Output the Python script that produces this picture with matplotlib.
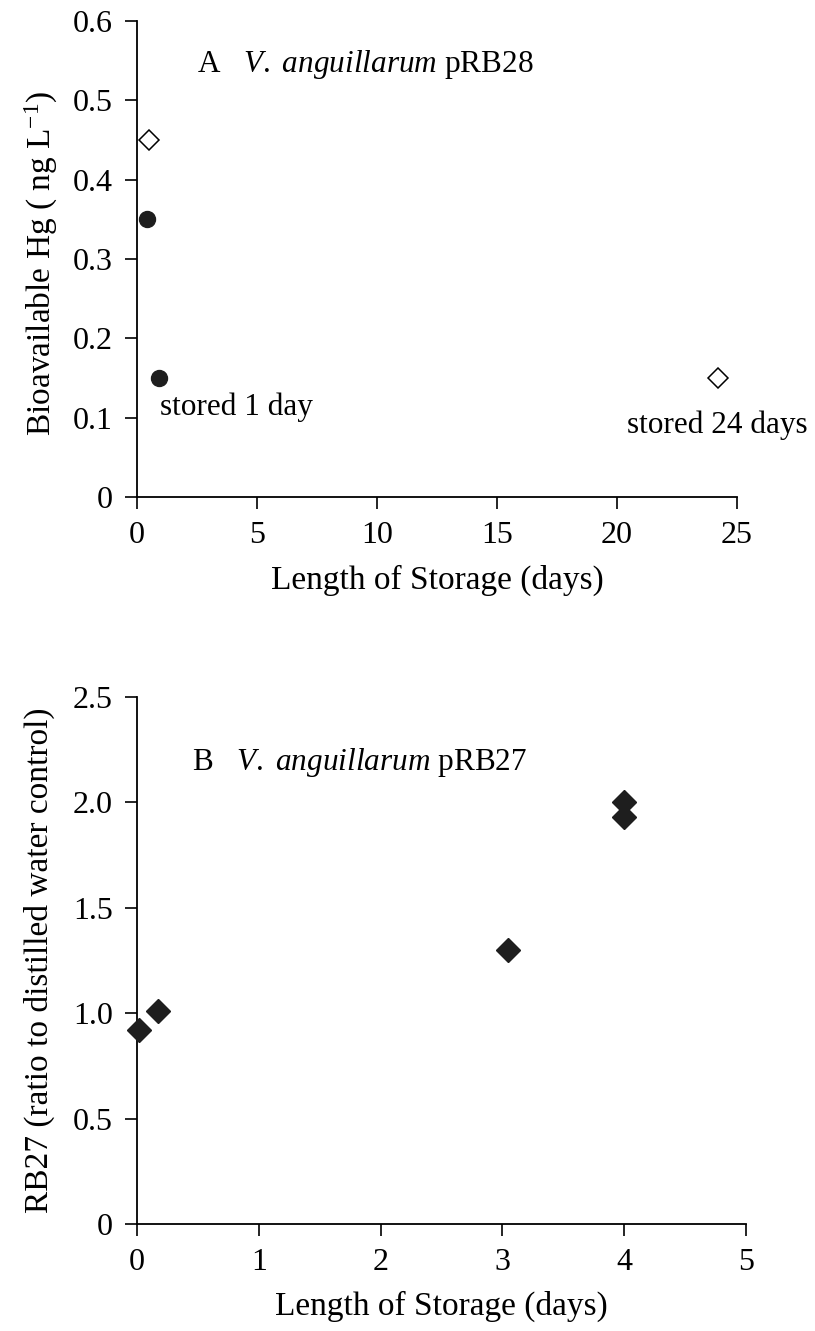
import matplotlib
matplotlib.use("Agg")
import matplotlib.pyplot as plt

plt.rcParams['font.family'] = ['Liberation Serif', 'DejaVu Serif']
plt.rcParams['mathtext.fontset'] = 'custom'
plt.rcParams['mathtext.rm'] = 'Liberation Serif'
plt.rcParams['mathtext.it'] = 'Liberation Serif:italic'

# Panel A data
a_closed_x = [0.4, 0.9]
a_closed_y = [0.35, 0.15]
a_open_x = [0.5, 24.2]
a_open_y = [0.45, 0.15]
a_xticks = [0, 5, 10, 15, 20, 25]
a_yticks = [0, 0.1, 0.2, 0.3, 0.4, 0.5, 0.6]
a_yticklabels = ["0", "0.1", "0.2", "0.3", "0.4", "0.5", "0.6"]

# Panel B data
b_x = [0.02, 0.17, 3.05, 4.0, 4.0]
b_y = [0.92, 1.01, 1.30, 1.93, 2.00]
b_xticks = [0, 1, 2, 3, 4, 5]
b_yticks = [0, 0.5, 1.0, 1.5, 2.0, 2.5]
b_yticklabels = ["0", "0.5", "1.0", "1.5", "2.0", "2.5"]

W, H = 815, 1331
fig = plt.figure(figsize=(W / 100, H / 100), dpi=100)

TICK_FS = 23
LABEL_FS = 24
TEXT_FS = 22.5

def style(ax):
    for s in ['top', 'right']:
        ax.spines[s].set_visible(False)
    for s in ['left', 'bottom']:
        ax.spines[s].set_linewidth(1.3)
    ax.tick_params(direction='out', length=8.5, width=1.2, labelsize=TICK_FS, pad=9)

# --- Panel A ---
axA = fig.add_axes([137 / W, 1 - 497 / H, 600 / W, 476 / H])
style(axA)
axA.plot(a_closed_x, a_closed_y, linestyle='none', marker='o', ms=11.5,
         color='#1e1e1e', mec='#1e1e1e', clip_on=False, zorder=3)
axA.plot(a_open_x, a_open_y, linestyle='none', marker='D', ms=10,
         mfc='white', mec='black', mew=1.1, clip_on=False, zorder=3)
axA.set_xlim(0, 25)
axA.set_ylim(0, 0.6)
axA.set_xticks(a_xticks)
axA.set_yticks(a_yticks)
axA.set_yticklabels(a_yticklabels)
axA.set_xlabel("Length of Storage (days)", fontsize=LABEL_FS)
axA.set_ylabel(r"Bioavailable Hg ( ng L$^{-1}$)", fontsize=LABEL_FS)
axA.xaxis.set_label_coords(0.5, -0.143)
axA.yaxis.set_label_coords(-0.128, 0.49)
axA.text(2.5, 0.545, r"A   $\mathit{V.\ anguillarum}$ pRB28", fontsize=TEXT_FS,
         ha='left', va='center')
axA.text(0.96, 0.113, "stored 1 day", fontsize=TEXT_FS, ha='left', va='center')
axA.text(20.4, 0.091, "stored 24 days", fontsize=TEXT_FS, ha='left', va='center')

# --- Panel B ---
axB = fig.add_axes([137 / W, 1 - 1224 / H, 609 / W, 527 / H])
style(axB)
axB.plot(b_x, b_y, linestyle='none', marker='D', ms=12.5,
         color='#1e1e1e', mec='#1e1e1e', clip_on=False, zorder=3)
axB.set_xlim(0, 5)
axB.set_ylim(0, 2.5)
axB.set_xticks(b_xticks)
axB.set_yticks(b_yticks)
axB.set_yticklabels(b_yticklabels)
axB.set_xlabel("Length of Storage (days)", fontsize=LABEL_FS)
axB.set_ylabel("RB27 (ratio to distilled water control)", fontsize=LABEL_FS)
axB.xaxis.set_label_coords(0.5, -0.127)
axB.yaxis.set_label_coords(-0.135, 0.5)
axB.text(0.45, 2.19, r"B   $\mathit{V.\ anguillarum}$ pRB27", fontsize=TEXT_FS,
         ha='left', va='center')

fig.savefig("out.png", dpi=100, facecolor='white')
